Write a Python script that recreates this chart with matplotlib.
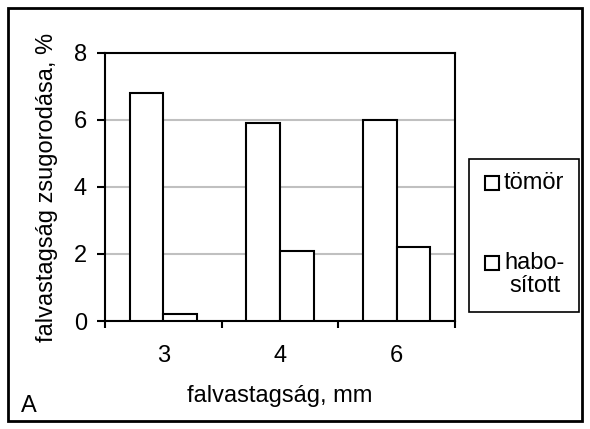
import matplotlib.pyplot as plt
from matplotlib.patches import Rectangle

plt.rcParams['font.family'] = ['Liberation Sans', 'DejaVu Sans']

categories = ['3', '4', '6']
tomor = [6.8, 5.9, 6.0]
habositott = [0.2, 2.1, 2.2]

fig = plt.figure(figsize=(5.9, 4.29), dpi=100)
W, H = 590, 429
ax = fig.add_axes([105 / W, 1 - 321 / H, (455 - 105) / W, (321 - 53) / H])

x = range(len(categories))
w = 0.29
ax.bar([i - w / 2 for i in x], tomor, w, color='white', edgecolor='black', linewidth=1.5, zorder=3)
ax.bar([i + w / 2 for i in x], habositott, w, color='white', edgecolor='black', linewidth=1.5, zorder=3)

fs = 17
ax.set_xlim(-0.5, 2.5)
ax.set_ylim(0, 8)
ax.set_yticks([0, 2, 4, 6, 8])
ax.yaxis.grid(True, color='#c0c0c0', linewidth=1.5, zorder=0)
ax.set_xticks([-0.5, 0.5, 1.5, 2.5])
ax.set_xticklabels([])
ax.set_xticks(list(x), minor=True)
ax.set_xticklabels(categories, minor=True)
ax.tick_params(axis='x', which='major', direction='out', length=5, width=1.5)
ax.tick_params(axis='x', which='minor', length=0, pad=17, labelsize=fs)
ax.tick_params(axis='y', direction='out', length=6, width=1.5, labelsize=fs, pad=7)
for s in ax.spines.values():
    s.set_linewidth(1.5)

ax.set_xlabel('falvastagság, mm', fontsize=fs, labelpad=13)
ax.set_ylabel('falvastagság zsugorodása, %', fontsize=fs, labelpad=11)

# legend box
fig.patches.append(Rectangle((469 / W, 1 - 312 / H), 110 / W, 153 / H, transform=fig.transFigure,
                             facecolor='white', edgecolor='black', linewidth=1.2))
for ty, label in [(183, 'tömör'), (263, 'habo-')]:
    fig.patches.append(Rectangle((485 / W, 1 - (ty + 7) / H), 14 / W, 14 / H, transform=fig.transFigure,
                                 facecolor='white', edgecolor='black', linewidth=1.5))
    fig.text(504 / W, 1 - ty / H, label, fontsize=fs, va='center', ha='left')
fig.text(509 / W, 1 - 286 / H, 'sított', fontsize=fs, va='center', ha='left')

fig.text(21 / W, 1 - 406 / H, 'A', fontsize=fs, va='center', ha='left')

# outer frame
fig.patches.append(Rectangle((8 / W, 8 / H), (W - 16) / W, (H - 16) / H, transform=fig.transFigure,
                             facecolor='none', edgecolor='black', linewidth=2))

fig.savefig('out.png', dpi=100)
